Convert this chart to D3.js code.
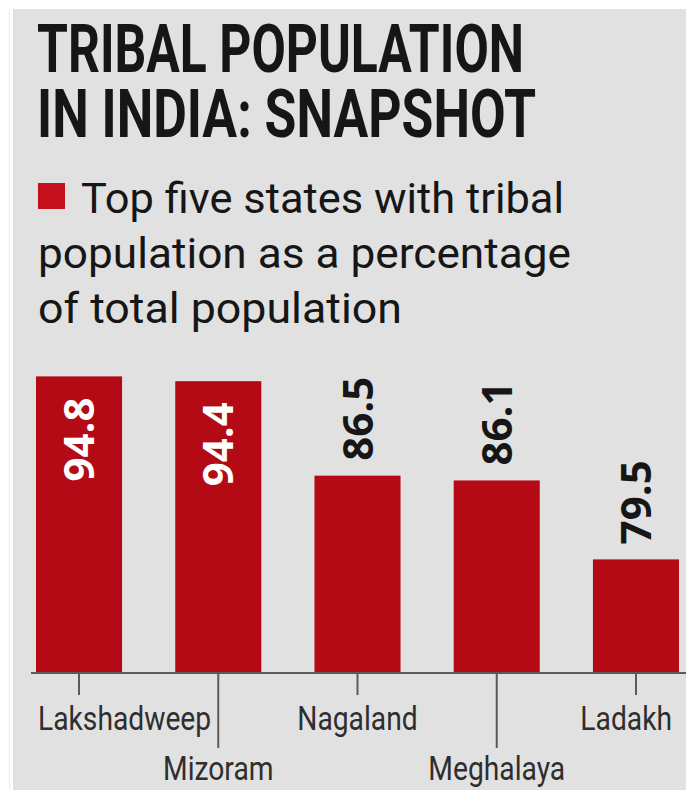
<!DOCTYPE html>
<html>
<head>
<meta charset="utf-8">
<script src="https://cdn.jsdelivr.net/npm/d3@7"></script>
<style>
  html, body { margin: 0; padding: 0; background: #ffffff; }
  svg { display: block; }
</style>
</head>
<body>
<svg id="chart" width="686" height="790"></svg>
<script>
// ---- data ----
const categories = ["Lakshadweep", "Mizoram", "Nagaland", "Meghalaya", "Ladakh"];
const values = [94.8, 94.4, 86.5, 86.1, 79.5];
const valueLabels = ["94.8", "94.4", "86.5", "86.1", "79.5"];
const labelRows = [0, 1, 0, 1, 0];
const titleLines = ["TRIBAL POPULATION", "IN INDIA: SNAPSHOT"];
const legendLines = ["Top five states with tribal", "population as a percentage", "of total population"];
const yDomain = [70, 95];

// ---- styles ----
const RED = "#b30a15";
const INK = "#161616";
const AXIS = "#5a5a5a";
const PANEL = "#e1e1e1";

const svg = d3.select("#chart");

// background panel
svg.append("rect").attr("x", 0).attr("y", 0).attr("width", 686).attr("height", 790).attr("fill", "#ffffff");
svg.append("rect").attr("x", 13).attr("y", 9).attr("width", 673).attr("height", 781).attr("fill", PANEL);
svg.append("line").attr("x1", 9.5).attr("x2", 9.5).attr("y1", 9).attr("y2", 790)
  .attr("stroke", "#ececec").attr("stroke-width", 1);

// title
const titleWidths = [487, 499];
svg.append("g").selectAll("text").data(titleLines).join("text")
  .attr("x", 37)
  .attr("y", (d, i) => 72 + i * 65)
  .attr("font-family", "Roboto, 'Open Sans', sans-serif")
  .attr("font-weight", 700)
  .attr("font-size", 66)
  .attr("fill", INK)
  .attr("textLength", (d, i) => titleWidths[i])
  .attr("lengthAdjust", "spacingAndGlyphs")
  .text(d => d);

// legend
svg.append("rect").attr("x", 38).attr("y", 183).attr("width", 27).attr("height", 26).attr("fill", "#c40f1c");
const legendX = [81, 38, 38];
const legendWidths = [483, 533, 364];
svg.append("g").selectAll("text").data(legendLines).join("text")
  .attr("x", (d, i) => legendX[i])
  .attr("y", (d, i) => 213 + i * 55)
  .attr("font-family", "Roboto, 'Open Sans', sans-serif")
  .attr("font-weight", 400)
  .attr("font-size", 42)
  .attr("fill", INK)
  .attr("textLength", (d, i) => legendWidths[i])
  .attr("lengthAdjust", "spacingAndGlyphs")
  .text(d => d);

// scales
const x = d3.scaleBand().domain(categories).range([36, 679]).paddingInner(0.382).paddingOuter(0);
const y = d3.scaleLinear().domain(yDomain).range([673, 374]);
const baseY = y(yDomain[0]);

const data = categories.map((c, i) => ({ c, v: values[i], label: valueLabels[i], row: labelRows[i] }));

// bars
svg.append("g").selectAll("rect").data(data).join("rect")
  .attr("x", d => x(d.c))
  .attr("y", d => y(d.v))
  .attr("width", x.bandwidth())
  .attr("height", d => baseY - y(d.v))
  .attr("fill", RED);

// value labels
const valG = svg.append("g");
data.forEach(d => {
  const cx = x(d.c) + x.bandwidth() / 2;
  const top = y(d.v);
  const t = valG.append("text")
    .attr("font-family", "'Open Sans', Roboto, sans-serif")
    .attr("font-weight", 700)
    .attr("font-size", 42)
    .attr("dy", "0.36em")
    .text(d.label);
  const len = t.node().getComputedTextLength();
  const inside = top - 15 - len < 370;
  if (inside) {
    t.attr("text-anchor", "end").attr("fill", "#ffffff")
      .attr("transform", `translate(${cx},${top + 21}) rotate(-90)`);
  } else {
    t.attr("text-anchor", "start").attr("fill", INK)
      .attr("transform", `translate(${cx},${top - 15}) rotate(-90)`);
  }
});

// axis baseline
svg.append("line").attr("x1", 31).attr("x2", 686).attr("y1", baseY).attr("y2", baseY)
  .attr("stroke", AXIS).attr("stroke-width", 2);

// ticks and category labels (condensed by horizontal scaling)
const tickLen = [22, 75];
const rowBaseline = [730, 780];
const squeeze = 0.83;
const axG = svg.append("g");
data.forEach(d => {
  const cx = x(d.c) + x.bandwidth() / 2;
  axG.append("line").attr("x1", cx).attr("x2", cx)
    .attr("y1", baseY).attr("y2", baseY + tickLen[d.row])
    .attr("stroke", AXIS).attr("stroke-width", 2);
  const t = axG.append("text")
    .attr("font-family", "Roboto, 'Open Sans', sans-serif")
    .attr("font-size", 34)
    .attr("fill", "#2e2e2e")
    .attr("x", 0)
    .attr("y", 0)
    .text(d.c);
  const w = t.node().getComputedTextLength() * squeeze;
  let left = cx - w / 2;
  left = Math.max(38, Math.min(left, 672 - w));
  t.attr("transform", `translate(${left},${rowBaseline[d.row]}) scale(${squeeze},1)`);
});
</script>
</body>
</html>
